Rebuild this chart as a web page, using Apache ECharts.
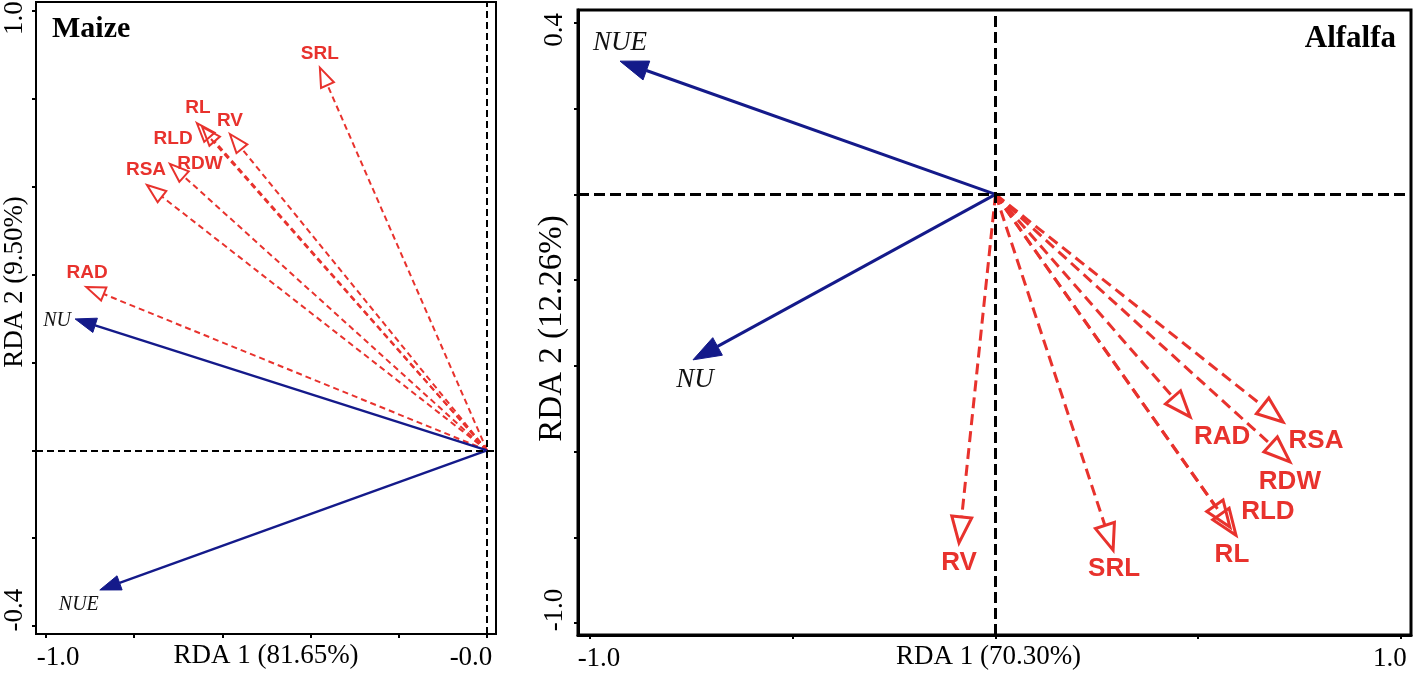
<!DOCTYPE html>
<html>
<head>
<meta charset="utf-8">
<title>RDA biplots - Maize / Alfalfa</title>
<script src="https://cdn.jsdelivr.net/npm/echarts@6/dist/echarts.min.js"></script>
<style>
    html, body { margin: 0; padding: 0; background: #fff; }
    #chart { width: 1417px; height: 675px; }
</style>
</head>
<body>
<div id="chart"></div>
<script>
// ---- Maize: root traits (red) and N responses (blue) ----
var maizeTraits = ['SRL', 'RL', 'RLD', 'RV', 'RDW', 'RSA', 'RAD'];
var maizeTraitRDA1 = [-0.379, -0.658, -0.646, -0.583, -0.719, -0.771, -0.909];
var maizeTraitRDA2 = [0.871, 0.745, 0.736, 0.720, 0.652, 0.604, 0.372];
var maizeResp = ['NU', 'NUE'];
var maizeRespRDA1 = [-0.934, -0.878];
var maizeRespRDA2 = [0.299, -0.318];

// ---- Alfalfa ----
var alfalfaTraits = ['RV', 'SRL', 'RL', 'RLD', 'RAD', 'RSA', 'RDW'];
var alfalfaTraitRDA1 = [-0.090, 0.290, 0.593, 0.578, 0.480, 0.709, 0.726];
var alfalfaTraitRDA2 = [-0.813, -0.830, -0.795, -0.776, -0.519, -0.531, -0.624];
var alfalfaResp = ['NUE', 'NU'];
var alfalfaRespRDA1 = [-0.926, -0.746];
var alfalfaRespRDA2 = [0.311, -0.386];

// ---- ticks / tick labels ----
var maizeXTicks = [-1.0, -0.8, -0.6, -0.4, -0.2, 0.0];
var maizeYTicks = [-0.4, -0.2, 0.0, 0.2, 0.4, 0.6, 0.8, 1.0];
var maizeXLabels = [-1.0, 0.0];
var maizeYLabels = [-0.4, 1.0];
var alfalfaXTicks = [-1.0, -0.5, 0.0, 0.5, 1.0];
var alfalfaYTicks = [-1.0, -0.8, -0.6, -0.4, -0.2, 0.0, 0.2, 0.4];
var alfalfaXLabels = [-1.0, 1.0];
var alfalfaYLabels = [-1.0, 0.4];

// label nudges, px from the arrow tip (layout only)
var maizeTraitLabelOffset = [[0, -14], [1, -15], [-29, 12], [0, -13], [30, 0], [-1, -15], [1, -14]];
var maizeRespLabelOffset = [[-18, 2], [-21, 15]];
var alfalfaTraitLabelOffset = [[0, 20], [1, 19], [-4, 20], [38, -15], [32, 20], [33, 19], [0, 20]];
var alfalfaRespLabelOffset = [[0, -18], [2, 20]];

var RED = '#e8322d';
var BLUE = '#141a8a';
var SERIF = '"Liberation Serif", "Times New Roman", serif';
var SANS = '"Liberation Sans", Arial, sans-serif';

function pairs(xs, ys) {
    return xs.map(function (x, i) { return [x, ys[i]]; });
}

function fmtTick(v) {
    return v === 0 ? '-0.0' : v.toFixed(1);
}

// arrow from origin to (RDA1, RDA2) with a triangular head and a text label
function arrowSeries(idx, names, xs, ys, offsets, cfg) {
    return {
        type: 'custom',
        xAxisIndex: idx,
        yAxisIndex: idx,
        z: cfg.z,
        silent: true,
        data: pairs(xs, ys),
        renderItem: function (params, api) {
            var o = api.coord([0, 0]);
            var p = api.coord([api.value(0), api.value(1)]);
            var dx = p[0] - o[0], dy = p[1] - o[1];
            var len = Math.sqrt(dx * dx + dy * dy);
            var ux = dx / len, uy = dy / len;
            var bx = p[0] - ux * cfg.headLen, by = p[1] - uy * cfg.headLen;
            var nx = -uy * cfg.headHalf, ny = ux * cfg.headHalf;
            var off = offsets[params.dataIndex];
            return {
                type: 'group',
                children: [{
                    type: 'line',
                    shape: { x1: o[0], y1: o[1], x2: bx, y2: by },
                    style: { stroke: cfg.color, lineWidth: cfg.lineWidth, lineDash: cfg.dash || null }
                }, {
                    type: 'polygon',
                    shape: { points: [p, [bx + nx, by + ny], [bx - nx, by - ny]] },
                    style: {
                        fill: cfg.open ? 'none' : cfg.color,
                        stroke: cfg.color,
                        lineWidth: cfg.headStroke,
                        lineJoin: 'miter'
                    }
                }, {
                    type: 'text',
                    x: p[0] + off[0],
                    y: p[1] + off[1],
                    style: {
                        text: names[params.dataIndex],
                        fill: cfg.textColor,
                        fontFamily: cfg.fontFamily,
                        fontSize: cfg.fontSize,
                        fontWeight: cfg.fontWeight || 'normal',
                        fontStyle: cfg.fontStyle || 'normal',
                        align: 'center',
                        verticalAlign: 'middle'
                    }
                }]
            };
        }
    };
}

function zeroLines(idx, width, dash) {
    return {
        type: 'line',
        xAxisIndex: idx,
        yAxisIndex: idx,
        data: [],
        z: 1,
        markLine: {
            silent: true,
            symbol: ['none', 'none'],
            label: { show: false },
            lineStyle: { color: '#000', width: width, type: dash },
            data: [{ xAxis: 0 }, { yAxis: 0 }]
        }
    };
}

function tickRich(size, lo, hi) {
    return {
        lo: { fontFamily: SERIF, fontSize: size, color: '#000', padding: lo },
        hi: { fontFamily: SERIF, fontSize: size, color: '#000', padding: hi }
    };
}

function valueAxis(o) {
    return {
        type: 'value',
        gridIndex: o.grid,
        min: o.min,
        max: o.max,
        splitLine: { show: false },
        axisLine: { onZero: false, lineStyle: { color: '#000', width: o.lineWidth } },
        axisTick: { customValues: o.ticks, length: 4, lineStyle: { color: '#000', width: 2 } },
        axisLabel: {
            customValues: o.labels,
            rotate: o.rotate || 0,
            margin: o.labelMargin,
            formatter: function (v) {
                return (v === o.labels[0] ? '{lo|' : '{hi|') + fmtTick(v) + '}';
            },
            rich: tickRich(27, o.loPad, o.hiPad)
        },
        name: o.name,
        nameLocation: 'middle',
        nameGap: o.nameGap,
        nameMoveOverlap: false,
        nameRotate: o.nameRotate || 0,
        nameTextStyle: {
            fontFamily: SERIF, fontSize: o.nameSize, color: '#000', padding: o.namePad
        }
    };
}

var chart = echarts.init(document.getElementById('chart'));

var option = {
    animation: false,
    backgroundColor: '#fff',
    title: [{
        text: 'Maize', left: 52, top: 14, padding: 0,
        textStyle: { fontFamily: SERIF, fontWeight: 'bold', fontSize: 30, color: '#000' }
    }, {
        text: 'Alfalfa', right: 21, top: 23, padding: 0,
        textStyle: { fontFamily: SERIF, fontWeight: 'bold', fontSize: 31, color: '#000' }
    }],
    grid: [{
        left: 36, top: 2, width: 460, height: 632,
        show: true, borderColor: '#000', borderWidth: 2, outerBoundsMode: 'none'
    }, {
        left: 578, top: 10, width: 833, height: 625,
        show: true, borderColor: '#000', borderWidth: 3, outerBoundsMode: 'none'
    }],
    xAxis: [
        valueAxis({
            grid: 0, min: -1.0227, max: 0.0204, lineWidth: 2,
            ticks: maizeXTicks, labels: maizeXLabels, labelMargin: 10,
            loPad: [0, 0, 0, 24], hiPad: [0, 32, 0, 0],
            name: 'RDA 1 (81.65%)', nameGap: 8, nameSize: 27, namePad: 0
        }),
        valueAxis({
            grid: 1, min: -1.0296, max: 1.0247, lineWidth: 3,
            ticks: alfalfaXTicks, labels: alfalfaXLabels, labelMargin: 10,
            loPad: [0, 0, 0, 18], hiPad: [0, 22, 0, 0],
            name: 'RDA 1 (70.30%)', nameGap: 8, nameSize: 27, namePad: [0, 12, 0, 0]
        })
    ],
    yAxis: [
        valueAxis({
            grid: 0, min: -0.4182, max: 1.0205, lineWidth: 2,
            ticks: maizeYTicks, labels: maizeYLabels, labelMargin: 8, rotate: 90,
            loPad: [0, 0, 0, 32], hiPad: [0, 14, 0, 0],
            name: 'RDA 2 (9.50%)', nameGap: 8, nameRotate: 90, nameSize: 27, namePad: [0, 0, 0, 72]
        }),
        valueAxis({
            grid: 1, min: -1.028, max: 0.4303, lineWidth: 3,
            ticks: alfalfaYTicks, labels: alfalfaYLabels, labelMargin: 10, rotate: 90,
            loPad: [0, 0, 0, 26], hiPad: [0, 14, 0, 0],
            name: 'RDA 2 (12.26%)', nameGap: 9, nameRotate: 90, nameSize: 33, namePad: [0, 12, 0, 0]
        })
    ],
    series: [
        zeroLines(0, 2, [7, 4]),
        arrowSeries(0, maizeTraits, maizeTraitRDA1, maizeTraitRDA2, maizeTraitLabelOffset, {
            z: 2, color: RED, lineWidth: 2, dash: [6, 4], open: true,
            headLen: 19, headHalf: 7, headStroke: 2,
            textColor: RED, fontFamily: SANS, fontSize: 19, fontWeight: 'bold'
        }),
        arrowSeries(0, maizeResp, maizeRespRDA1, maizeRespRDA2, maizeRespLabelOffset, {
            z: 3, color: BLUE, lineWidth: 2.4, open: false,
            headLen: 21, headHalf: 7.5, headStroke: 1,
            textColor: '#111', fontFamily: SERIF, fontSize: 20, fontStyle: 'italic'
        }),
        zeroLines(1, 3, [11, 5]),
        arrowSeries(1, alfalfaTraits, alfalfaTraitRDA1, alfalfaTraitRDA2, alfalfaTraitLabelOffset, {
            z: 2, color: RED, lineWidth: 3, dash: [11, 6], open: true,
            headLen: 26, headHalf: 10, headStroke: 3,
            textColor: RED, fontFamily: SANS, fontSize: 26, fontWeight: 'bold'
        }),
        arrowSeries(1, alfalfaResp, alfalfaRespRDA1, alfalfaRespRDA2, alfalfaRespLabelOffset, {
            z: 3, color: BLUE, lineWidth: 3, open: false,
            headLen: 28, headHalf: 10, headStroke: 1,
            textColor: '#111', fontFamily: SERIF, fontSize: 27, fontStyle: 'italic'
        })
    ]
};

chart.setOption(option);
window.addEventListener('resize', function () {
    chart.resize();
});
</script>
</body>
</html>
